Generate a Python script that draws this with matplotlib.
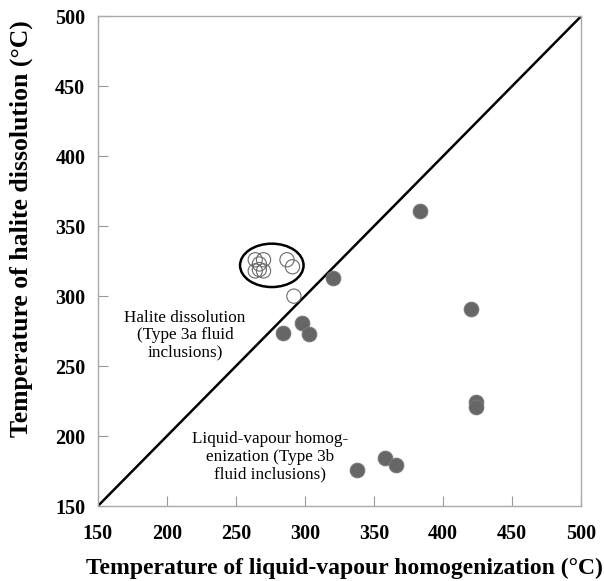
import matplotlib
matplotlib.use("Agg")
import matplotlib.pyplot as plt
from matplotlib.patches import Ellipse

# Type 3b fluid inclusions (liquid-vapour homogenization)
hom_3b = [383, 420, 424, 424, 338, 358, 366, 320, 298, 284, 303]
diss_3b = [361, 291, 224, 221, 176, 184, 179, 313, 281, 274, 273]

# Type 3a fluid inclusions (halite dissolution)
hom_3a = [264, 270, 267, 264, 270, 267, 287, 291, 292]
diss_3a = [326, 326, 323, 318, 318, 319, 326, 321, 300]

ticks = [150, 200, 250, 300, 350, 400, 450, 500]

plt.rcParams["font.family"] = ["Liberation Serif", "DejaVu Serif"]

fig = plt.figure(figsize=(6.04, 5.81), dpi=100)
ax = fig.add_axes([0.162, 0.129, 0.800, 0.843])

ax.plot([150, 500], [150, 500], color="black", lw=1.8, zorder=2)

ax.scatter(hom_3a, diss_3a, s=105, facecolors="none", edgecolors="#6a6a6a",
           linewidths=0.8, zorder=3)
ax.scatter(hom_3b, diss_3b, s=110, facecolors="#666666", edgecolors="#777777",
           linewidths=0.8, zorder=3)

ax.add_patch(Ellipse((276, 322), 46, 31, fill=False, edgecolor="black",
                     lw=1.8, zorder=3))

ax.text(213, 272, "Halite dissolution\n(Type 3a fluid\ninclusions)",
        ha="center", va="center", fontsize=12.3, linespacing=1.12)
ax.text(275, 185, "Liquid-vapour homog-\nenization (Type 3b\nfluid inclusions)",
        ha="center", va="center", fontsize=12.3, linespacing=1.15)

ax.set_xlim(150, 500)
ax.set_ylim(150, 500)
ax.set_xticks(ticks)
ax.set_yticks(ticks)
ax.set_xticklabels([str(t) for t in ticks], fontweight="bold", fontsize=14.5)
ax.set_yticklabels([str(t) for t in ticks], fontweight="bold", fontsize=14.5)
ax.tick_params(direction="in", length=7, width=0.8, color="#999999",
               pad=9)
ax.tick_params(axis="x", pad=13)
for sp in ax.spines.values():
    sp.set_color("#aaaaaa")
    sp.set_linewidth(1.0)

ax.set_xlabel("Temperature of liquid-vapour homogenization (°C)",
              fontweight="bold", fontsize=17, labelpad=10)
ax.xaxis.set_label_coords(0.51, -0.105)
ax.set_ylabel("Temperature of halite dissolution (°C)",
              fontweight="bold", fontsize=18.5, labelpad=10)
ax.yaxis.set_label_coords(-0.135, 0.567)

fig.savefig("out.png", dpi=100)
